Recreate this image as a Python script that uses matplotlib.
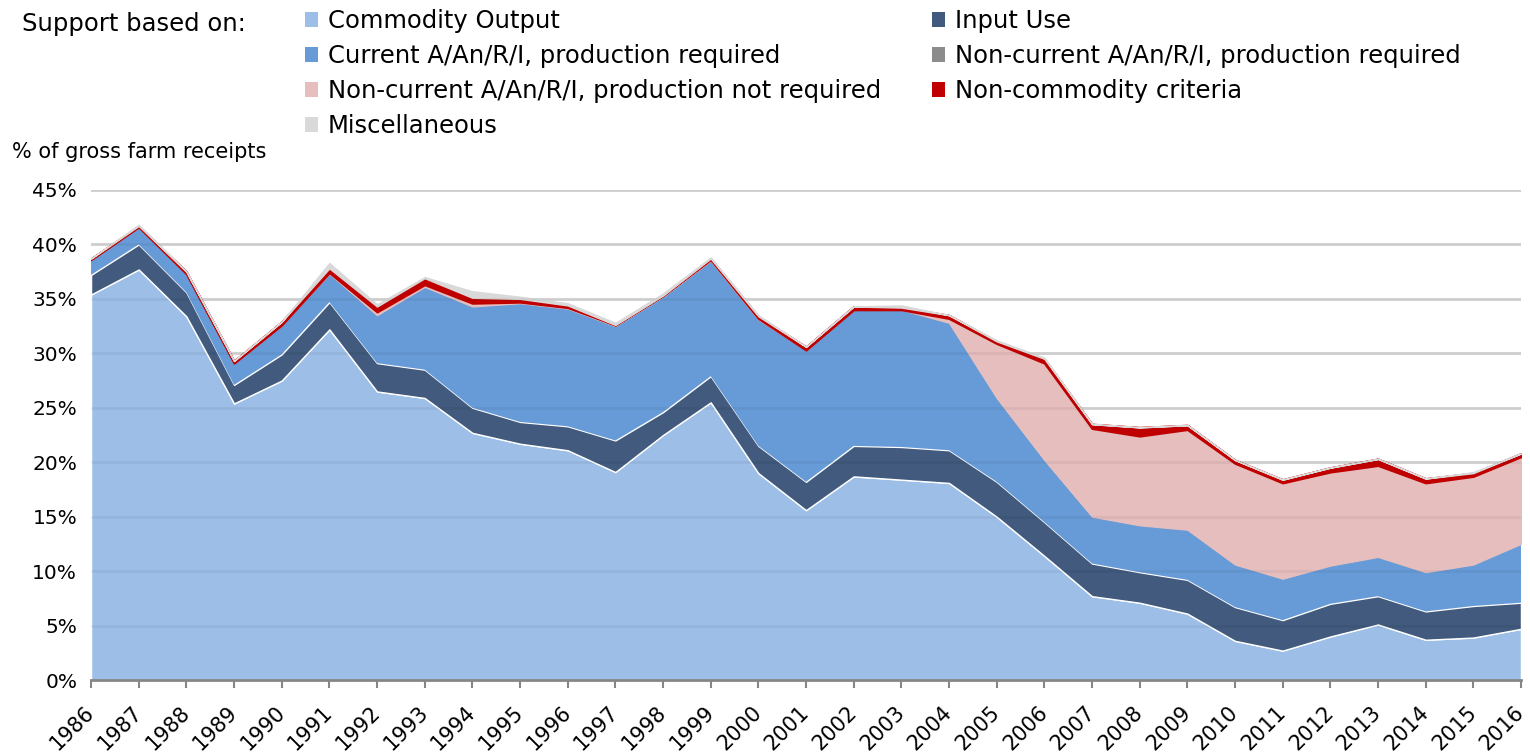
import matplotlib
matplotlib.use("Agg")
import matplotlib.pyplot as plt
import matplotlib.transforms as mtransforms
from matplotlib.patches import Patch
import numpy as np

plt.rcParams['font.family'] = ['DejaVu Sans']

# data, % of gross farm receipts
years = list(range(1986, 2017))
commodity_output = [35.4, 37.7, 33.4, 25.4, 27.5, 32.2, 26.5, 25.9, 22.7, 21.7, 21.1, 19.1, 22.5, 25.5, 19.0, 15.6,
                    18.7, 18.4, 18.1, 15.0, 11.4, 7.7, 7.1, 6.1, 3.6, 2.7, 4.0, 5.1, 3.7, 3.9, 4.7]
input_use = [1.8, 2.3, 2.2, 1.7, 2.4, 2.5, 2.6, 2.6, 2.3, 2.0, 2.2, 2.9, 2.1, 2.4, 2.5, 2.6,
             2.8, 3.0, 3.0, 3.2, 3.1, 3.0, 2.8, 3.1, 3.1, 2.8, 3.0, 2.6, 2.6, 2.9, 2.4]
current_req = [1.4, 1.6, 1.7, 2.0, 2.7, 2.6, 4.4, 7.6, 9.3, 10.9, 10.8, 10.5, 10.6, 10.6, 11.6, 12.1,
               12.5, 12.6, 11.7, 7.7, 5.7, 4.3, 4.3, 4.6, 3.9, 3.8, 3.5, 3.6, 3.6, 3.8, 5.4]
noncurrent_req = [0.0] * 31
noncurrent_notreq = [0.0, 0.0, 0.0, 0.0, 0.0, 0.1, 0.3, 0.2, 0.3, 0.1, 0.1, 0.1, 0.1, 0.1, 0.1, 0.0,
                     0.0, 0.0, 0.4, 5.0, 8.9, 8.1, 8.2, 9.2, 9.3, 8.8, 8.6, 8.4, 8.2, 8.1, 8.0]
non_commodity = [0.1, 0.1, 0.2, 0.2, 0.3, 0.4, 0.5, 0.6, 0.5, 0.3, 0.2, 0.0, 0.0, 0.1, 0.2, 0.3,
                 0.3, 0.2, 0.3, 0.2, 0.4, 0.4, 0.8, 0.4, 0.3, 0.3, 0.4, 0.6, 0.4, 0.3, 0.3]
miscellaneous = [0.0, 0.1, 0.0, 0.0, 0.0, 0.5, 0.2, 0.1, 0.6, 0.2, 0.2, 0.2, 0.2, 0.1, 0.1, 0.0,
                 0.0, 0.2, 0.0, 0.1, 0.1, 0.0, 0.0, 0.0, 0.0, 0.0, 0.0, 0.0, 0.0, 0.1, 0.0]

labels = ["Commodity Output", "Input Use", "Current A/An/R/I, production required",
          "Non-current A/An/R/I, production required", "Non-current A/An/R/I, production not required",
          "Non-commodity criteria", "Miscellaneous"]
colors = ["#9dbee7", "#415a7d", "#679bd7", "#8c8c8c", "#e6bebe", "#c00000", "#d9d9d9"]

fig = plt.figure(figsize=(15.3, 7.53), dpi=100)
ax = fig.add_axes([0.0595, 0.0969, 0.9346, 0.6508])

polys = ax.stackplot(years, commodity_output, input_use, current_req, noncurrent_req,
                     noncurrent_notreq, non_commodity, miscellaneous, colors=colors, zorder=2)
# thin white separators like the original
for p in polys[:2]:
    p.set_edgecolor("white")
    p.set_linewidth(1.0)
polys[5].set_edgecolor("#c00000")
polys[5].set_linewidth(1.5)
polys[4].set_edgecolor("#e6bebe")
polys[4].set_linewidth(0.8)
polys[6].set_edgecolor("#d9d9d9")
polys[6].set_linewidth(1.0)

ax.set_xlim(1986, 2016)
ax.set_ylim(0, 45)
ax.set_yticks(np.arange(0, 46, 5))
ax.set_yticklabels([f"{v}%" for v in range(0, 46, 5)], fontsize=14.5)
ax.set_xticks(years)

# gridlines: grey behind, faint on top (shows through the areas)
for v in range(5, 46, 5):
    ax.axhline(v, color="#d9d9d9", lw=2, zorder=1)
    ax.axhline(v, color="black", alpha=0.05, lw=2, zorder=3)

for s in ["top", "right", "left"]:
    ax.spines[s].set_visible(False)
ax.spines["bottom"].set_color("#868686")
ax.spines["bottom"].set_linewidth(2)
ax.spines["bottom"].set_zorder(4)
ax.tick_params(axis="x", direction="out", length=6, width=1.5, color="#868686", pad=10)
ax.tick_params(axis="y", length=0, pad=10)

ax.set_xticklabels([str(y) for y in years], rotation=45, ha="right", rotation_mode="anchor", fontsize=15)
shift = mtransforms.ScaledTranslation(-7 / 100, 0, fig.dpi_scale_trans)
for lab in ax.get_xticklabels():
    lab.set_transform(lab.get_transform() + shift)

fig.text(0.0078, 0.798, "% of gross farm receipts", fontsize=15, va="center", ha="left")
fig.text(0.0144, 0.968, "Support based on:", fontsize=17.5, va="center", ha="left")

col1 = [0, 2, 4, 6]
col2 = [1, 3, 5]
legend_kw = dict(loc="upper left", frameon=False, fontsize=17.5, handlelength=0.55, handleheight=0.55,
                 handletextpad=0.4, labelspacing=0.45, borderpad=0, borderaxespad=0)
fig.legend([Patch(facecolor=colors[i], edgecolor="none") for i in col1], [labels[i] for i in col1],
           bbox_to_anchor=(0.1993, 0.988), **legend_kw)
fig.legend([Patch(facecolor=colors[i], edgecolor="none") for i in col2], [labels[i] for i in col2],
           bbox_to_anchor=(0.609, 0.988), **legend_kw)

fig.savefig("out.png", dpi=100)
